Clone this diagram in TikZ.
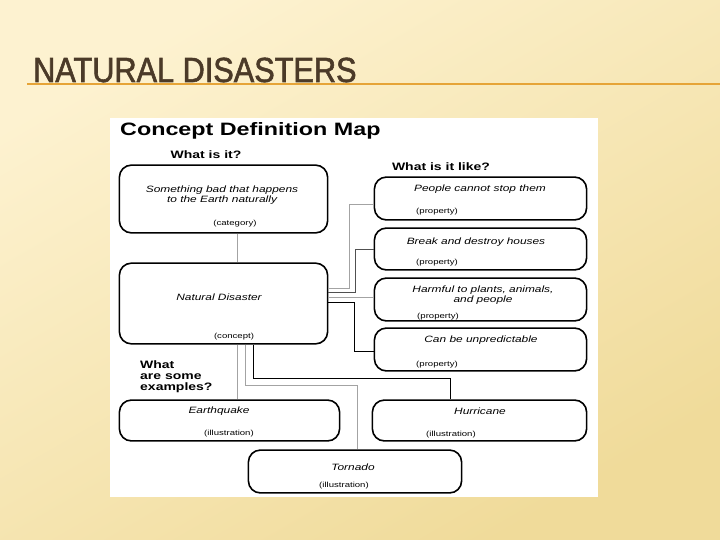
\documentclass[tikz,border=0pt]{standalone}
\usepackage{fontspec}
\setmainfont{Liberation Sans}
\newfontfamily\mapfont[FakeStretch=1.3]{Liberation Sans}
\newfontfamily\titlefont[FakeStretch=0.88, FakeBold=1.6]{Liberation Sans}
\usepackage{xcolor}
\definecolor{slidebg}{HTML}{FDF2D0}
\definecolor{slidebgdark}{HTML}{F0DB9A}
\definecolor{titlebrown}{HTML}{4B3A28}
\definecolor{rulegold}{HTML}{E6A437}
\definecolor{linkgray}{HTML}{A3A3A3}
\definecolor{linkdark}{HTML}{505050}

\begin{document}
\begin{tikzpicture}[x=1bp, y=-1bp,
    card/.style={rectangle, rounded corners=12bp, draw=black, line width=1.6bp, fill=white, inner sep=0pt},
    main/.style={align=center, inner sep=0pt, font=\mapfont\itshape\fontsize{9.2}{10.6}\selectfont},
    note/.style={inner sep=0pt, font=\mapfont\fontsize{7.4}{8}\selectfont},
    ask/.style={inner sep=0pt, align=left, font=\mapfont\bfseries\fontsize{10.8}{11.2}\selectfont},
    link/.style={line width=0.9bp, linkgray},
    linkd/.style={line width=0.9bp, linkdark},
    linkb/.style={line width=0.9bp, black},
  ]
  \useasboundingbox (0,0) rectangle (720,540);
  \fill[top color=slidebg, bottom color=slidebgdark, shading angle=30] (0,0) rectangle (720,540);

  % slide title
  \node[anchor=base west, inner sep=0pt, text=titlebrown, font=\titlefont\fontsize{35}{35}\selectfont] (title) at (33,82) {NATURAL DISASTERS};
  \draw[rulegold, line width=2.2bp] ([xshift=-6bp, yshift=-1.8bp]title.base west) -- ++(693,0);

  % map panel
  \fill[white] (110,118) rectangle (598,497);
  \node[anchor=west, inner sep=0pt, font=\mapfont\bfseries\fontsize{18}{18}\selectfont] (maphead) at (120,131) {Concept Definition Map};

  \node[ask] (askwhat) at (206,155) {What is it?};
  \node[ask] (asklike) at (441,167) {What is it like?};
  \node[ask, anchor=west] (askex) at (140,377) {What\\are some\\examples?};

  \node[card, minimum width=209, minimum height=68] (cat) at (223.5,199) {};
  \node[card, minimum width=209, minimum height=81] (concept) at (223.5,303.5) {};
  \node[card, minimum width=213, minimum height=43] (p1) at (480.5,198.5) {};
  \node[card, minimum width=213, minimum height=42] (p2) at (480.5,249) {};
  \node[card, minimum width=213, minimum height=43] (p3) at (480.5,299.5) {};
  \node[card, minimum width=213, minimum height=43] (p4) at (480.5,349.5) {};
  \node[card, minimum width=221, minimum height=41] (eq) at (229.5,420.5) {};
  \node[card, minimum width=215, minimum height=41] (hur) at (479.5,420.5) {};
  \node[card, minimum width=214, minimum height=43] (tor) at (355,471.5) {};

  \node[main] (cattext) at (222,195) {Something bad that happens\\to the Earth naturally};
  \node[note] (catnote) at (235,224) {(category)};
  \node[main] (concepttext) at (219,297) {Natural Disaster};
  \node[note] (conceptnote) at (234,337) {(concept)};
  \node[main] (p1text) at (480,189) {People cannot stop them};
  \node[note] (p1note) at (437,212) {(property)};
  \node[main] (p2text) at (476,242) {Break and destroy houses};
  \node[note] (p2note) at (437,263) {(property)};
  \node[main] (p3text) at (483,295) {Harmful to plants, animals,\\and people};
  \node[note] (p3note) at (438,317) {(property)};
  \node[main] (p4text) at (481,340) {Can be unpredictable};
  \node[note] (p4note) at (437,365) {(property)};
  \node[main] (eqtext) at (219,411) {Earthquake};
  \node[note] (eqnote) at (229,434) {(illustration)};
  \node[main] (hurtext) at (480,411) {Hurricane};
  \node[note] (hurnote) at (451,435) {(illustration)};
  \node[main] (tortext) at (353,467) {Tornado};
  \node[note] (tornote) at (344,486) {(illustration)};

  % links
  \draw[link] ([xshift=13.5bp]cat.south) -- ([xshift=13.5bp]concept.north);
  \draw[link] ([xshift=13.5bp]concept.south) -- ([xshift=13.5bp]concept.south |- eq.north);
  \draw[link] ([xshift=21.5bp]concept.south) |- ++(0,41) -| ([xshift=2bp]tor.north);
  \draw[linkb] ([xshift=29.5bp]concept.south) |- ++(0,34) -| ([xshift=-29.5bp]hur.north);
  \draw[link] ([yshift=15.5bp]concept.east) -- ++(21,0) |- ([yshift=-5.5bp]p1.west);
  \draw[linkd] ([yshift=11.5bp]concept.east) -- ++(27,0) |- (p2.west);
  \draw[link] ([yshift=6.5bp]concept.east) -- ([yshift=6.5bp]concept.east -| p3.west);
  \draw[linkb] ([yshift=1.5bp]concept.east) -- ++(26,0) |- ([yshift=-1.5bp]p4.west);
\end{tikzpicture}
\end{document}
